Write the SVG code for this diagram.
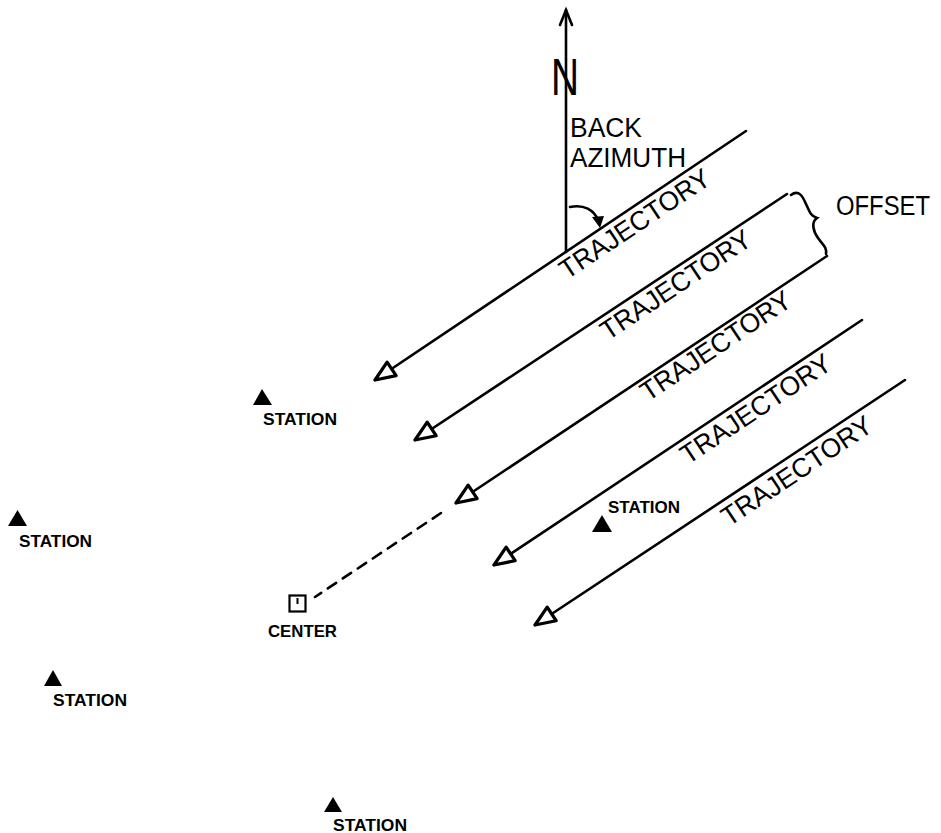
<svg xmlns="http://www.w3.org/2000/svg" width="941" height="833" viewBox="0 0 941 833">
<style>
.ln{stroke:#000;stroke-width:2.6;fill:none;stroke-linecap:round}
.lbl{font-family:"Liberation Sans",Arial,sans-serif;font-size:27px;fill:#000}
.st{font-family:"Liberation Sans",Arial,sans-serif;font-size:16.5px;font-weight:bold;fill:#000}
.tri{fill:#000}
</style>
<defs>
<marker id="oa" markerUnits="userSpaceOnUse" markerWidth="30" markerHeight="30" refX="0" refY="0" viewBox="-20 -10 24 20" orient="auto">
<path d="M0,0 L-16,-6.5 L-16,6.5 Z" fill="#fff" stroke="#000" stroke-width="2.6" stroke-linejoin="round"/>
</marker>
</defs>
<rect width="941" height="833" fill="#fff"/>
<g id="north">
<line class="ln" x1="566" y1="252" x2="566" y2="10"/>
<polyline class="ln" points="560,25 566,10 572,25"/>
<text class="lbl" x="551" y="95" textLength="28" lengthAdjust="spacingAndGlyphs" style="font-size:51px">N</text>
</g>
<g id="back-azimuth">
<text class="lbl" x="570" y="137" textLength="72" lengthAdjust="spacingAndGlyphs">BACK</text>
<text class="lbl" x="570" y="167" textLength="116" lengthAdjust="spacingAndGlyphs">AZIMUTH</text>
<path class="ln" d="M570,207 C584,204 594,210 598,220"/>
<polygon class="tri" points="592,217 604,216 600,228"/>
</g>
<g id="connectors">
<line class="ln" x1="746" y1="131" x2="375" y2="380" marker-end="url(#oa)"/>
<line class="ln" x1="787" y1="194" x2="415" y2="440" marker-end="url(#oa)"/>
<line class="ln" x1="827" y1="256" x2="456" y2="503" marker-end="url(#oa)"/>
<line class="ln" x1="862" y1="320" x2="494" y2="565" marker-end="url(#oa)"/>
<line class="ln" x1="905" y1="380" x2="535" y2="625" marker-end="url(#oa)"/>
<line class="ln" x1="441" y1="513" x2="315" y2="597" stroke-dasharray="10 8" stroke-width="3"/>
</g>
<g id="trajectory-labels">
<text class="lbl" transform="translate(567,280) rotate(-33.7)" textLength="175" lengthAdjust="spacingAndGlyphs">TRAJECTORY</text>
<text class="lbl" transform="translate(608,341) rotate(-33.7)" textLength="175" lengthAdjust="spacingAndGlyphs">TRAJECTORY</text>
<text class="lbl" transform="translate(648,402) rotate(-33.7)" textLength="175" lengthAdjust="spacingAndGlyphs">TRAJECTORY</text>
<text class="lbl" transform="translate(688,465) rotate(-33.7)" textLength="175" lengthAdjust="spacingAndGlyphs">TRAJECTORY</text>
<text class="lbl" transform="translate(729,527) rotate(-33.7)" textLength="175" lengthAdjust="spacingAndGlyphs">TRAJECTORY</text>
</g>
<g id="offset">
<path class="ln" d="M791,195 C799,189 803,197 806,204 C810,213 811,216 817,218 C811,222 813,231 818,238 C823,245 827,247 826,254"/>
<text class="lbl" x="836" y="215" textLength="94" lengthAdjust="spacingAndGlyphs">OFFSET</text>
</g>
<g id="center">
<rect x="289.5" y="595.5" width="16" height="16" fill="none" stroke="#000" stroke-width="2.2"/>
<line x1="297.5" y1="598" x2="297.5" y2="604" stroke="#000" stroke-width="2"/>
<text class="st" x="268" y="637" textLength="69" lengthAdjust="spacingAndGlyphs">CENTER</text>
</g>
<g id="station-1">
<polygon class="tri" points="262,389 253,405 272,405"/>
<text class="st" x="263" y="425" textLength="74" lengthAdjust="spacingAndGlyphs">STATION</text>
</g>
<g id="station-2">
<polygon class="tri" points="17.5,510 8,526 27,526"/>
<text class="st" x="19" y="547" textLength="73" lengthAdjust="spacingAndGlyphs">STATION</text>
</g>
<g id="station-3">
<polygon class="tri" points="602,515 592,532 612,532"/>
<text class="st" x="608" y="513" textLength="72" lengthAdjust="spacingAndGlyphs">STATION</text>
</g>
<g id="station-4">
<polygon class="tri" points="53,670 44,686 62,686"/>
<text class="st" x="53" y="706" textLength="74" lengthAdjust="spacingAndGlyphs">STATION</text>
</g>
<g id="station-5">
<polygon class="tri" points="333,797 324,812 342,812"/>
<text class="st" x="333" y="831" textLength="74" lengthAdjust="spacingAndGlyphs">STATION</text>
</g>
</svg>
